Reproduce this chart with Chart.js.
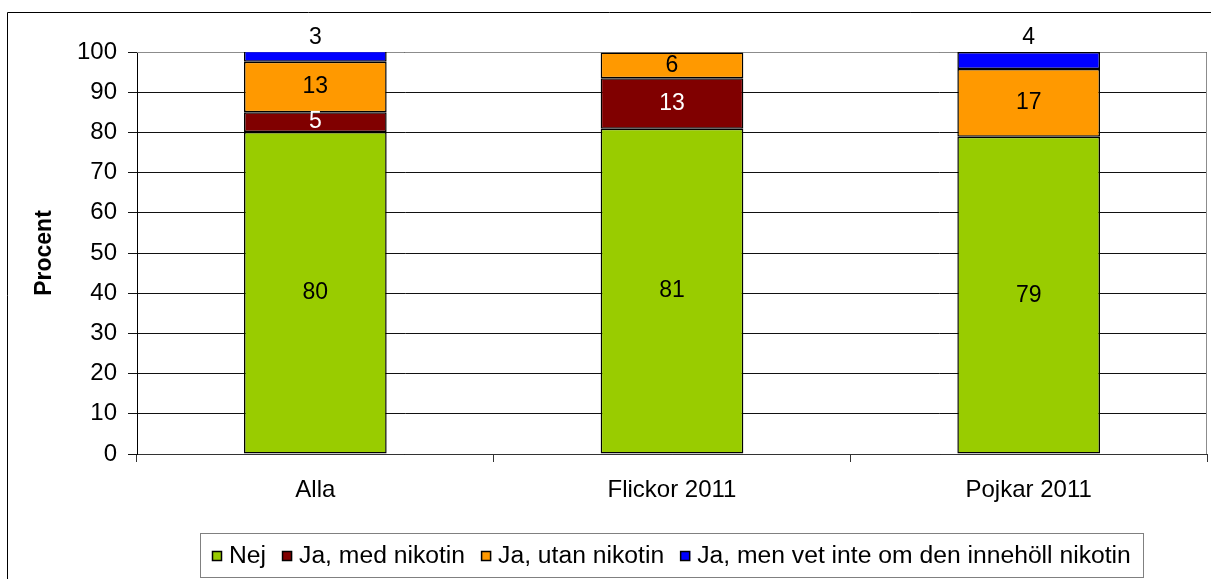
<!DOCTYPE html>
<html>
<head>
<meta charset="utf-8">
<script src="https://cdn.jsdelivr.net/npm/chart.js@4.4.0/dist/chart.umd.min.js"></script>
<style>
  html, body { margin: 0; padding: 0; background: #fff; overflow: hidden; }
  #wrap { width: 1211px; height: 579px; }
</style>
</head>
<body>
<div id="wrap"><canvas id="chart" width="1211" height="579"></canvas></div>
<script>
// data (labels are the rounded values)
const categories = ['Alla', 'Flickor 2011', 'Pojkar 2011'];
const nej = [80.1, 80.9, 78.9];
const medNikotin = [4.9, 12.6, 0];
const utanNikotin = [12.6, 6.4, 16.9];
const vetInte = [2.7, 0, 4.2];
const seriesNames = ['Nej', 'Ja, med nikotin', 'Ja, utan nikotin', 'Ja, men vet inte om den innehöll nikotin'];
const seriesColors = ['#99CC00', '#800000', '#FF9900', '#0000FF'];
const labelColors = ['#000000', '#FFFFFF', '#000000', '#000000'];
const yMax = 100;
const yStep = 10;
const yTitle = 'Procent';

const FONT = 'Arial, "Liberation Sans", sans-serif';

// white background, gray plot border, outer frame
const framePlugin = {
    id: 'frame',
    beforeDraw(chart) {
        const ctx = chart.ctx;
        ctx.save();
        ctx.fillStyle = '#fff';
        ctx.fillRect(0, 0, chart.width, chart.height);
        ctx.restore();
    },
    beforeDatasetsDraw(chart) {
        const { ctx, chartArea: a } = chart;
        ctx.save();
        ctx.strokeStyle = '#8c8c8c';
        ctx.lineWidth = 1;
        ctx.beginPath();
        ctx.moveTo(a.left, a.top + 0.5);
        ctx.lineTo(a.right - 0.5, a.top + 0.5);
        ctx.lineTo(a.right - 0.5, a.bottom);
        ctx.stroke();
        ctx.restore();
    },
    afterDraw(chart) {
        const { ctx } = chart;
        ctx.save();
        // outer frame
        ctx.strokeStyle = '#000';
        ctx.lineWidth = 1;
        ctx.beginPath();
        ctx.moveTo(7.5, chart.height);
        ctx.lineTo(7.5, 12.5);
        ctx.lineTo(chart.width, 12.5);
        ctx.stroke();

        // y title
        ctx.translate(45, 253);
        ctx.rotate(-Math.PI / 2);
        ctx.font = 'bold 23px ' + FONT;
        ctx.fillStyle = '#000';
        ctx.textAlign = 'center';
        ctx.textBaseline = 'middle';
        ctx.fillText(yTitle, 0, 0);
        ctx.restore();

        // legend box
        ctx.save();
        ctx.font = '24.7px ' + FONT;
        const box = 10, gapText = 7, gapItem = 16;
        const widths = seriesNames.map(n => ctx.measureText(n).width);
        let total = 0;
        widths.forEach((w, i) => { total += box + gapText + w + (i < widths.length - 1 ? gapItem : 0); });
        const pad = 12;
        const cx = 671;
        const left = Math.round(cx - total / 2 - pad);
        const top = 533, h = 44;
        ctx.strokeStyle = '#808080';
        ctx.lineWidth = 1;
        ctx.strokeRect(left + 0.5, top + 0.5, Math.round(total + pad * 2), h);
        const midY = top + h / 2 + 0.5;
        let x = left + pad;
        ctx.textBaseline = 'middle';
        ctx.textAlign = 'left';
        seriesNames.forEach((n, i) => {
            const by = Math.round(midY - box / 2);
            ctx.fillStyle = seriesColors[i];
            ctx.fillRect(x, by, box, box);
            ctx.strokeStyle = '#000';
            ctx.lineWidth = 1.5;
            ctx.strokeRect(x + 0.5, by + 0.5, box - 1, box - 1);
            x += box + gapText;
            ctx.fillStyle = '#000';
            ctx.fillText(n, x, midY + 1);
            x += widths[i] + gapItem;
        });
        ctx.restore();
    }
};

// value labels on the segments
const labelPlugin = {
    id: 'segLabels',
    afterDatasetsDraw(chart) {
        const { ctx, chartArea: a } = chart;
        ctx.save();
        ctx.font = '23px ' + FONT;
        ctx.textAlign = 'center';
        ctx.textBaseline = 'middle';
        chart.data.datasets.forEach((ds, i) => {
            const meta = chart.getDatasetMeta(i);
            meta.data.forEach((bar, j) => {
                const v = ds.data[j];
                if (!v) return;
                const top = Math.max(bar.y, a.top);
                const bottom = Math.min(bar.base, a.bottom);
                let y = (top + bottom) / 2;
                let color = labelColors[i];
                if (bottom - top < 18) {
                    y = a.top - 14;
                    color = '#000';
                }
                ctx.fillStyle = color;
                ctx.fillText(String(Math.round(v)), bar.x, y);
            });
        });
        ctx.restore();
    }
};

const seriesData = [nej, medNikotin, utanNikotin, vetInte];

new Chart(document.getElementById('chart'), {
    type: 'bar',
    data: {
        labels: categories,
        datasets: seriesData.map((d, i) => ({
            label: seriesNames[i],
            data: d,
            backgroundColor: seriesColors[i],
            borderColor: '#000',
            borderWidth: 1.5,
            borderSkipped: false,
            barPercentage: 0.4,
            categoryPercentage: 1,
            clip: 0
        }))
    },
    options: {
        responsive: false,
        animation: false,
        devicePixelRatio: 1,
        layout: { padding: { top: 52, right: 4, left: 0, bottom: 0 } },
        plugins: {
            legend: { display: false },
            tooltip: { enabled: false },
            title: { display: false }
        },
        scales: {
            x: {
                stacked: true,
                grid: { drawOnChartArea: false, drawTicks: true, tickLength: 8, color: '#333', offset: true },
                border: { color: '#333', width: 1 },
                ticks: { color: '#000', font: { size: 24, family: FONT }, padding: 14, maxRotation: 0 },
                afterFit(s) { s.height = 125; }
            },
            y: {
                stacked: true,
                min: 0,
                max: yMax,
                grid: { color: '#111', tickLength: 9 },
                border: { color: '#000', width: 1 },
                ticks: { stepSize: yStep, color: '#000', font: { size: 24, family: FONT }, padding: 11 },
                afterFit(s) { s.width = 137; }
            }
        }
    },
    plugins: [framePlugin, labelPlugin]
});
</script>
</body>
</html>
